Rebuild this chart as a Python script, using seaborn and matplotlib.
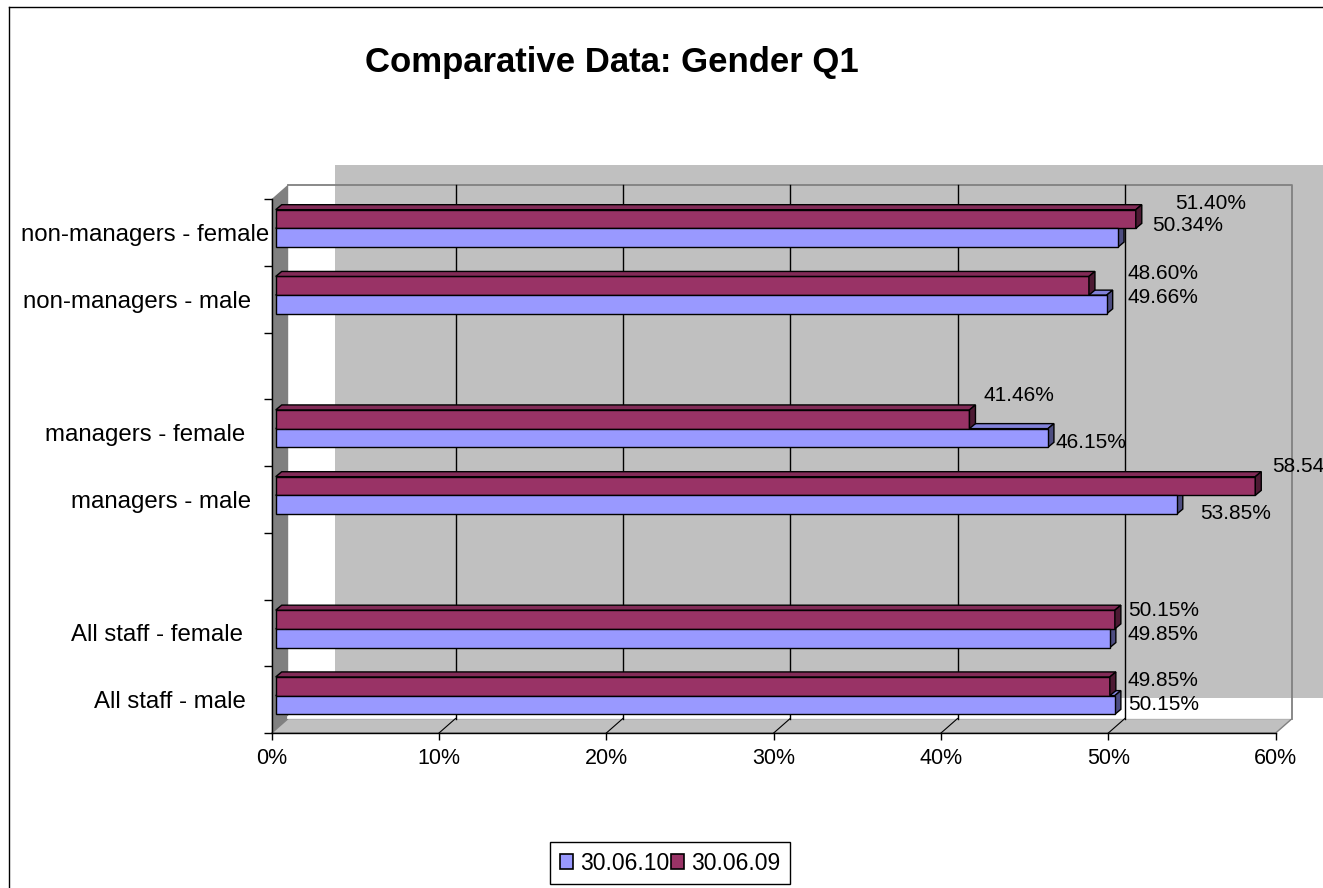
import numpy as np
import pandas as pd
import matplotlib
matplotlib.use("Agg")
import matplotlib.pyplot as plt
import seaborn as sns
from matplotlib.patches import Polygon, Patch, Rectangle
from matplotlib.lines import Line2D
from matplotlib.colors import to_rgb

# Chart data
categories = ["non-managers - female", "non-managers - male",
              "managers - female", "managers - male",
              "All staff - female", "All staff - male"]
series = ["30.06.10", "30.06.09"]
values_2010 = [50.34, 49.66, 46.15, 53.85, 49.85, 50.15]
values_2009 = [51.40, 48.60, 41.46, 58.54, 50.15, 49.85]
x_ticks = [0, 10, 20, 30, 40, 50, 60]

# empty slot between each pair of groups, like the original sheet
slots = [categories[0], categories[1], " ",
         categories[2], categories[3], "  ",
         categories[4], categories[5]]

colors = {"30.06.10": "#9999FF", "30.06.09": "#993366"}

# label nudges in pixels (right, up) from the bar end
nudge = {
    "30.06.10": [(34, 12), (21, 7), (8, -5), (23, -9), (18, 4), (13, 0)],
    "30.06.09": [(39, 16), (39, 12), (14, 24), (17, 20), (13, 9), (18, 6)],
}
# right edge of each category label, pixels left of the axis
cat_pad_px = [2, 21, 26, 21, 29, 26]

plt.rcParams["font.family"] = ["Liberation Sans", "DejaVu Sans"]

df = pd.DataFrame({
    "Category": categories * 2,
    "Series": ["30.06.10"] * len(categories) + ["30.06.09"] * len(categories),
    "Value": values_2010 + values_2009,
})
values = {"30.06.10": values_2010, "30.06.09": values_2009}

W, H = 1323, 888
fig = plt.figure(figsize=(W / 100, H / 100), dpi=100)
ax_l, ax_r, ax_t, ax_b = 271.7, 1275.7, 199, 733
ax = fig.add_axes([ax_l / W, 1 - ax_b / H, (ax_r - ax_l) / W, (ax_b - ax_t) / H])
ax.set_facecolor("none")

# grey plot-area fill sitting behind the 3d box
fig.add_artist(Rectangle((335 / W, 1 - 698 / H), 1 - 335 / W + 0.01, (698 - 165) / H,
                         transform=fig.transFigure, facecolor="#C0C0C0",
                         edgecolor="none", zorder=-2))
# outer chart border (only left and top fall inside the image)
fig.add_artist(Line2D([8.5 / W, 8.5 / W], [0, 1 - 6.7 / H], transform=fig.transFigure,
                      color="black", lw=1))
fig.add_artist(Line2D([8.5 / W, 1], [1 - 6.7 / H, 1 - 6.7 / H], transform=fig.transFigure,
                      color="black", lw=1))

sns.barplot(data=df, y="Category", x="Value", hue="Series", order=slots,
            hue_order=["30.06.09", "30.06.10"], palette=colors, width=0.56,
            saturation=1, orient="h", edgecolor="black", linewidth=1,
            errorbar=None, legend=False, ax=ax)

ax.set_xlim(0, 60)
ax.set_ylim(7.5, -0.5)

# data units per pixel
px_x = 60 / (ax_r - ax_l)
px_y = 8 / (ax_b - ax_t)

# 3d box: left wall, floor, back wall edges and gridlines
wdx, wdy = 16.5 * px_x, 14.5 * px_y
ax.add_patch(Polygon([(0, -0.5), (wdx, -0.5 - wdy), (wdx, 7.5 - wdy), (0, 7.5)],
                     facecolor="#808080", edgecolor="none", zorder=1, clip_on=False))
ax.add_patch(Polygon([(0, 7.5), (wdx, 7.5 - wdy), (60 + wdx, 7.5 - wdy), (60, 7.5)],
                     facecolor="#C0C0C0", edgecolor="#808080", lw=1, zorder=1, clip_on=False))
ax.plot([wdx, 60 + wdx], [7.5 - wdy - 2 * px_y] * 2, color="white", lw=2,
        zorder=1.1, clip_on=False)
ax.plot([wdx, 60 + wdx, 60 + wdx], [-0.5 - wdy, -0.5 - wdy, 7.5 - wdy],
        color="#808080", lw=1.3, zorder=1.2, clip_on=False)
for t in x_ticks[1:-1]:
    ax.plot([t + wdx, t + wdx], [-0.5 - wdy, 7.5 - wdy], color="black", lw=1,
            zorder=1.5, clip_on=False)
    ax.plot([t, t + wdx], [7.5, 7.5 - wdy], color="black", lw=0.8,
            zorder=1.5, clip_on=False)

# 3d faces on the bars and the value labels
bdx, bdy = 6 * px_x, 5 * px_y
for p in list(ax.patches):
    if not hasattr(p, "get_width") or p.get_height() > 1:
        continue
    fc = np.array(p.get_facecolor()[:3])
    if np.allclose(fc, to_rgb(colors["30.06.10"]), atol=0.02):
        name = "30.06.10"
    elif np.allclose(fc, to_rgb(colors["30.06.09"]), atol=0.02):
        name = "30.06.09"
    else:
        continue
    p.set_x(p.get_x() + 4 * px_x)
    p.set_y(p.get_y() - 4 * px_y)
    p.set_zorder(3)
    x0, y0, w, h = p.get_x(), p.get_y(), p.get_width(), p.get_height()
    z = 2.6 if name == "30.06.10" else 3
    top = Polygon([(x0, y0), (x0 + bdx, y0 - bdy), (x0 + w + bdx, y0 - bdy), (x0 + w, y0)],
                  facecolor=fc * 0.85, edgecolor="black", lw=1, zorder=z, clip_on=False)
    side = Polygon([(x0 + w, y0), (x0 + w + bdx, y0 - bdy), (x0 + w + bdx, y0 + h - bdy),
                    (x0 + w, y0 + h)],
                   facecolor=fc * 0.5, edgecolor="black", lw=1, zorder=z, clip_on=False)
    ax.add_patch(top)
    ax.add_patch(side)

    slot = int(round(y0 + h / 2 + 4 * px_y))
    idx = categories.index(slots[slot])
    dx, dy = nudge[name][idx]
    ax.annotate(f"{values[name][idx]:.2f}%", xy=(x0 + w, y0 + h / 2), xytext=(dx, dy),
                textcoords="offset pixels", ha="left", va="center", fontsize=15,
                zorder=5, annotation_clip=False)

# axes
ax.set_xlabel("")
ax.set_ylabel("")
ax.set_xticks(x_ticks, [f"{t}%" for t in x_ticks])
ax.tick_params(axis="x", length=5, width=1, direction="out", labelsize=15.5, pad=6,
               colors="black")
pos = [slots.index(c) for c in categories]
ax.set_yticks(pos, categories)
ax.set_yticks(np.arange(-0.5, 8, 1), minor=True)
ax.tick_params(axis="y", which="major", length=0, labelsize=17.3)
ax.tick_params(axis="y", which="minor", length=6, width=1, direction="out", color="black")
for tick, pad in zip(ax.yaxis.get_major_ticks(), cat_pad_px):
    tick.set_pad(pad * 0.72)
for side_name in ["top", "right"]:
    ax.spines[side_name].set_visible(False)
for side_name in ["left", "bottom"]:
    ax.spines[side_name].set_color("black")
    ax.spines[side_name].set_linewidth(1)
    ax.spines[side_name].set_zorder(4)

# title and legend
fig.text(612 / W, 1 - 72 / H, "Comparative Data: Gender Q1", ha="center",
         va="baseline", fontsize=25, fontweight="bold")
handles = [Patch(facecolor=colors[s], edgecolor="black", lw=1.2) for s in series]
leg = fig.legend(handles=handles, labels=series, loc="center",
                 bbox_to_anchor=(670 / W, 1 - 863 / H), ncol=2, fontsize=16.5,
                 handlelength=0.6, handleheight=0.6, handletextpad=0.3,
                 columnspacing=0.05, borderpad=0.4, borderaxespad=0,
                 fancybox=False, edgecolor="black", framealpha=1)
leg.get_frame().set_linewidth(1)

fig.savefig("out.png", dpi=100)
